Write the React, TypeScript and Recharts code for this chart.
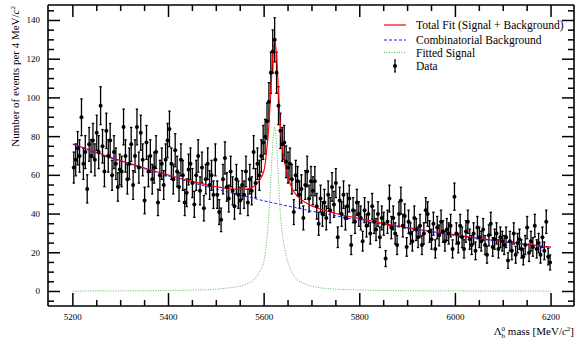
import { ComposedChart, Line, Scatter, ErrorBar, XAxis, YAxis } from "recharts";

const FONT = '"Liberation Serif", "Times New Roman", serif';

// histogram binning: 4 MeV bins from 5200 to 6200
const BIN_LOW = 5200;
const BIN_WIDTH = 4;

// events per bin, one array per 100 MeV
const counts5200 = [64, 68, 74, 70, 90, 66, 72, 53, 76, 70, 78, 68, 82, 72, 96, 75, 62, 83, 70, 78, 60, 72, 66, 54, 63];
const counts5300 = [62, 85, 70, 58, 66, 76, 55, 70, 85, 64, 82, 68, 47, 77, 62, 70, 58, 64, 72, 46, 60, 66, 55, 68, 78];
const counts5400 = [84, 66, 58, 73, 62, 54, 68, 60, 46, 51, 63, 66, 56, 45, 60, 70, 52, 64, 43, 58, 66, 55, 60, 50, 68];
const counts5500 = [50, 41, 37, 58, 69, 54, 48, 62, 52, 44, 58, 50, 47, 55, 50, 62, 46, 58, 52, 72, 56, 66, 60, 70, 77];
const counts5600 = [80, 88, 98, 113, 124, 130, 113, 96, 83, 76, 77, 67, 64, 66, 58, 41, 60, 57, 50, 53, 38, 55, 62, 48, 57];
const counts5700 = [52, 57, 44, 35, 48, 40, 46, 38, 50, 42, 54, 45, 56, 28, 47, 40, 50, 38, 44, 48, 24, 42, 36, 46, 40];
const counts5800 = [38, 26, 42, 34, 40, 30, 44, 36, 32, 40, 28, 38, 35, 17, 36, 48, 33, 38, 30, 24, 40, 47, 34, 39, 23];
const counts5900 = [36, 30, 26, 38, 32, 28, 34, 24, 30, 42, 40, 31, 27, 35, 22, 33, 29, 36, 31, 26, 32, 30, 34, 22, 49];
const counts6000 = [30, 25, 34, 28, 22, 31, 36, 27, 24, 30, 21, 33, 28, 26, 32, 24, 19, 29, 35, 23, 27, 30, 22, 28, 26];
const counts6100 = [24, 28, 16, 26, 21, 30, 19, 25, 27, 22, 18, 24, 33, 20, 26, 23, 34, 22, 25, 19, 28, 21, 36, 18, 15];

const counts = [
  ...counts5200, ...counts5300, ...counts5400, ...counts5500, ...counts5600,
  ...counts5700, ...counts5800, ...counts5900, ...counts6000, ...counts6100,
];

// fit curves
const curveMass = [
  5200, 5250, 5300, 5350, 5400, 5450, 5500, 5530, 5560, 5580, 5590, 5600, 5606, 5610, 5614, 5618, 5622,
  5626, 5630, 5634, 5638, 5644, 5654, 5664, 5684, 5704, 5750, 5800, 5850, 5900, 5950, 6000, 6050, 6100, 6150, 6200,
];
const bgCurve = [
  76, 71.5, 67.3, 63.4, 59.7, 56.2, 52.9, 51.0, 49.2, 48.0, 47.4, 46.8, 46.5, 46.3, 46.1, 45.8, 45.6,
  45.4, 45.2, 45.0, 44.7, 44.4, 43.9, 43.4, 42.3, 41.3, 39.1, 36.8, 34.6, 32.6, 30.7, 28.9, 27.2, 25.6, 24.1, 22.7,
];
const sigCurve = [
  0.2, 0.3, 0.3, 0.4, 0.5, 0.7, 1.2, 2, 3.5, 6.5, 10, 16, 28, 40, 58, 76, 85,
  76, 58, 40, 30, 21, 12, 7.5, 4, 2.5, 1.2, 0.8, 0.5, 0.4, 0.3, 0.3, 0.2, 0.2, 0.2, 0.2,
];

const xTicks = [
  5200, 5250, 5300, 5350, 5400, 5450, 5500, 5550, 5600, 5650, 5700,
  5750, 5800, 5850, 5900, 5950, 6000, 6050, 6100, 6150, 6200,
];
const yTicks = [
  -5, 0, 5, 10, 15, 20, 25, 30, 35, 40, 45, 50, 55, 60, 65, 70, 75,
  80, 85, 90, 95, 100, 105, 110, 115, 120, 125, 130, 135, 140, 145,
];

const points = counts.map((n, i) => ({
  x: BIN_LOW + BIN_WIDTH * (i + 0.5),
  y: n,
  err: Math.sqrt(n),
}));

const curves = curveMass.map((m, i) => ({
  x: m,
  bg: bgCurve[i],
  sig: sigCurve[i],
  total: bgCurve[i] + sigCurve[i],
}));

const X_DOMAIN = [5148, 6248];
const Y_DOMAIN = [-7.5, 148];

function BottomTick({ x, y, payload }: any) {
  const major = payload.value % 200 === 0;
  return (
    <g>
      <line x1={x} y1={y} x2={x} y2={y - (major ? 13 : 6)} stroke="#000" strokeWidth={1.5} />
      {major && (
        <text x={x} y={y + 14} textAnchor="middle" fontSize={9} fontFamily={FONT} fill="#000">
          {payload.value}
        </text>
      )}
    </g>
  );
}

function TopTick({ x, y, payload }: any) {
  const major = payload.value % 200 === 0;
  return <line x1={x} y1={y} x2={x} y2={y + (major ? 12 : 6)} stroke="#000" strokeWidth={1.5} />;
}

function LeftTick({ x, y, payload }: any) {
  const major = payload.value >= 0 && payload.value % 20 === 0;
  return (
    <g>
      <line x1={x} y1={y} x2={x + (major ? 12 : 6)} y2={y} stroke="#000" strokeWidth={1.5} />
      {major && (
        <text x={x - 8} y={y + 3} textAnchor="end" fontSize={9} fontFamily={FONT} fill="#000">
          {payload.value}
        </text>
      )}
    </g>
  );
}

function RightTick({ x, y, payload }: any) {
  const major = payload.value >= 0 && payload.value % 20 === 0;
  return <line x1={x} y1={y} x2={x - (major ? 12 : 6)} y2={y} stroke="#000" strokeWidth={1.5} />;
}

const DataDot = (p: any) => <circle cx={p.cx} cy={p.cy} r={2} fill="#000" />;

export default function App() {
  const axisLine = { stroke: "#000", strokeWidth: 1.6 };
  return (
    <div style={{ position: "absolute", left: 0, top: 0, width: 576, height: 343, background: "#fff" }}>
      <ComposedChart width={576} height={343} data={curves} margin={{ top: 4, right: 1, bottom: 36, left: 47 }}>
        <XAxis
          dataKey="x"
          type="number"
          domain={X_DOMAIN}
          allowDataOverflow
          ticks={xTicks}
          interval={0}
          height={1}
          tickSize={0}
          tickMargin={0}
          tickLine={false}
          axisLine={axisLine}
          tick={BottomTick}
        />
        <XAxis
          xAxisId="top"
          orientation="top"
          dataKey="x"
          type="number"
          domain={X_DOMAIN}
          allowDataOverflow
          ticks={xTicks}
          interval={0}
          height={1}
          tickSize={0}
          tickMargin={0}
          tickLine={false}
          axisLine={axisLine}
          tick={TopTick}
        />
        <YAxis
          type="number"
          domain={Y_DOMAIN}
          allowDataOverflow
          ticks={yTicks}
          interval={0}
          width={1}
          tickSize={0}
          tickMargin={0}
          tickLine={false}
          axisLine={axisLine}
          tick={LeftTick}
        />
        <YAxis
          yAxisId="right"
          orientation="right"
          type="number"
          domain={Y_DOMAIN}
          allowDataOverflow
          ticks={yTicks}
          interval={0}
          width={1}
          tickSize={0}
          tickMargin={0}
          tickLine={false}
          axisLine={axisLine}
          tick={RightTick}
        />
        <Scatter data={points} dataKey="y" shape={DataDot} isAnimationActive={false}>
          <ErrorBar dataKey="err" direction="y" width={1.2} stroke="#000" strokeWidth={1.3} />
        </Scatter>
        <Line dataKey="total" type="monotone" stroke="#ff0000" strokeWidth={1.2} dot={false} isAnimationActive={false} />
        <Line dataKey="bg" type="monotone" stroke="#1a1aff" strokeWidth={1} strokeDasharray="3 2" dot={false} isAnimationActive={false} />
        <Line dataKey="sig" type="monotone" stroke="#55bb55" strokeWidth={1} strokeDasharray="1 1.5" dot={false} isAnimationActive={false} />
      </ComposedChart>

      <svg
        width={576}
        height={343}
        style={{ position: "absolute", left: 0, top: 0, pointerEvents: "none" }}
        fontFamily={FONT}
        fill="#000"
      >
        {/* legend */}
        <line x1={384} y1={25} x2={406} y2={25} stroke="#ff0000" strokeWidth={1.2} />
        <text x={416} y={29} fontSize={11.5}>Total Fit (Signal + Background)</text>
        <line x1={384} y1={40} x2={406} y2={40} stroke="#1a1aff" strokeDasharray="3 2" />
        <text x={416} y={44} fontSize={11.5}>Combinatorial Background</text>
        <line x1={384} y1={52.5} x2={406} y2={52.5} stroke="#55bb55" strokeDasharray="1 1.5" />
        <text x={416} y={56.5} fontSize={11.5}>Fitted Signal</text>
        <line x1={395} y1={60} x2={395} y2={72} stroke="#000" strokeWidth={1.3} />
        <line x1={394} y1={60} x2={396} y2={60} stroke="#000" />
        <line x1={394} y1={72} x2={396} y2={72} stroke="#000" />
        <circle cx={395} cy={66} r={2} fill="#000" />
        <text x={416} y={70} fontSize={11.5}>Data</text>

        {/* x title */}
        <text x={574} y={335} textAnchor="end" fontSize={11}>
          Λ
          <tspan fontSize={7} dy={3}>b</tspan>
          <tspan fontSize={7} dx={-3.5} dy={-7}>0</tspan>
          <tspan dy={4}> mass [MeV/</tspan>
          <tspan fontStyle="italic">c</tspan>
          <tspan fontSize={7} dy={-4}>2</tspan>
          <tspan dy={4}>]</tspan>
        </text>

        {/* y title */}
        <text transform="rotate(-90)" x={-6} y={18.5} textAnchor="end" fontSize={11}>
          Number of events per 4 MeV/
          <tspan fontStyle="italic">c</tspan>
          <tspan fontSize={7} dy={-4}>2</tspan>
        </text>
      </svg>
    </div>
  );
}
